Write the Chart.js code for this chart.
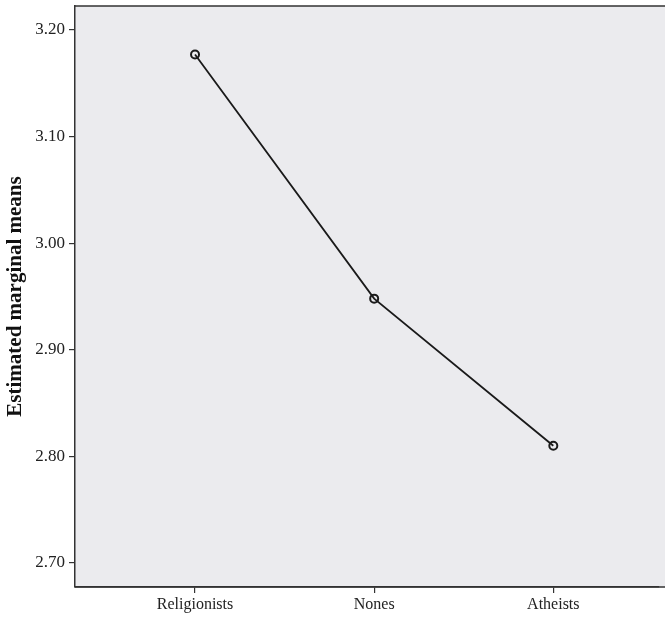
<!DOCTYPE html>
<html>
<head>
<meta charset="utf-8">
<script src="https://cdn.jsdelivr.net/npm/chart.js@4.4.0/dist/chart.umd.min.js"></script>
<style>
  html, body { margin: 0; padding: 0; background: #fff; }
  #wrap { width: 665px; height: 620px; }
</style>
</head>
<body>
<div id="wrap"><canvas id="chart" width="665" height="620"></canvas></div>
<script>
// data
const categories = ['Religionists', 'Nones', 'Atheists'];
const means = [3.177, 2.948, 2.810];
const yTicks = [2.70, 2.80, 2.90, 3.00, 3.10, 3.20];

const AXIS_COLOR = '#333333';
const FONT = '"Liberation Serif", "DejaVu Serif", serif';

// grey plot background + top border line, run out to the canvas edge
const boxPlugin = {
    id: 'box',
    beforeDraw(chart) {
        let a = chart.chartArea;
        let ctx = chart.ctx;
        ctx.save();
        ctx.fillStyle = '#ebebee';
        ctx.fillRect(a.left, a.top, chart.width - a.left, a.bottom - a.top);
        ctx.restore();
    },
    afterDraw(chart) {
        let a = chart.chartArea;
        let ctx = chart.ctx;
        ctx.save();
        ctx.strokeStyle = AXIS_COLOR;
        ctx.lineWidth = 1.5;
        ctx.beginPath();
        ctx.moveTo(a.left, a.top);
        ctx.lineTo(chart.width, a.top);
        ctx.moveTo(a.left, a.bottom);
        ctx.lineTo(chart.width, a.bottom);
        ctx.stroke();
        ctx.restore();
    }
};

let points = categories.map((c, i) => ({ x: i, y: means[i] }));

new Chart(document.getElementById('chart').getContext('2d'), {
    type: 'line',
    data: {
        datasets: [{
            data: points,
            borderColor: '#1a1a1a',
            borderWidth: 1.8,
            pointRadius: 4,
            pointBorderWidth: 2,
            pointBackgroundColor: 'rgba(0,0,0,0)',
            pointBorderColor: '#1a1a1a',
            tension: 0
        }]
    },
    options: {
        responsive: false,
        animation: false,
        layout: { padding: { top: 5, right: 0, left: 0, bottom: 0 } },
        plugins: {
            legend: { display: false },
            tooltip: { enabled: false }
        },
        scales: {
            x: {
                type: 'linear',
                min: -0.67,
                max: 2.59,
                afterBuildTicks: (scale) => {
                    scale.ticks = categories.map((c, i) => ({ value: i }));
                },
                afterFit: (scale) => {
                    scale.height = 33;
                    scale.paddingLeft = 0;
                    scale.paddingRight = 0;
                },
                border: { display: true, color: AXIS_COLOR, width: 1.5 },
                grid: {
                    drawOnChartArea: false,
                    drawTicks: true,
                    tickLength: 6,
                    color: AXIS_COLOR,
                    lineWidth: 1.2
                },
                ticks: {
                    padding: 2,
                    maxRotation: 0,
                    color: '#222',
                    font: { family: FONT, size: 16 },
                    callback: (v) => categories[v] || ''
                }
            },
            y: {
                min: 2.6775,
                max: 3.2225,
                afterBuildTicks: (scale) => {
                    scale.ticks = yTicks.map(v => ({ value: v }));
                },
                afterFit: (scale) => {
                    scale.width = 75;
                    scale.paddingTop = 0;
                    scale.paddingBottom = 0;
                },
                border: { display: true, color: AXIS_COLOR, width: 1.5 },
                grid: {
                    drawOnChartArea: false,
                    drawTicks: true,
                    tickLength: 6,
                    color: AXIS_COLOR,
                    lineWidth: 1.2
                },
                ticks: {
                    padding: 4,
                    color: '#222',
                    font: { family: FONT, size: 17 },
                    callback: (v) => Number(v).toFixed(2)
                },
                title: {
                    display: true,
                    text: 'Estimated marginal means',
                    color: '#111',
                    font: { family: FONT, size: 21, weight: 'bold' },
                    padding: { top: 3, bottom: 0 }
                }
            }
        }
    },
    plugins: [boxPlugin]
});
</script>
</body>
</html>
